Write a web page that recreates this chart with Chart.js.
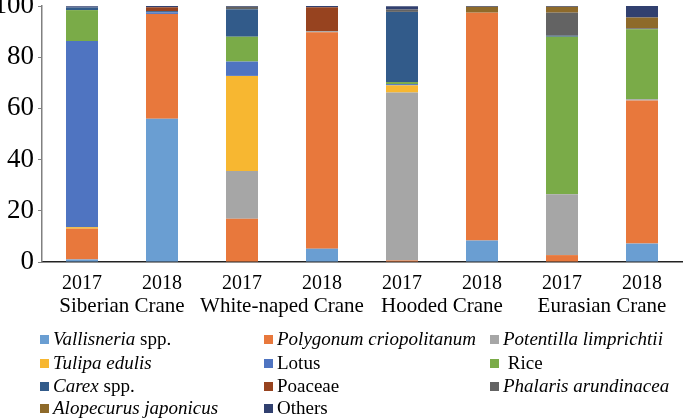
<!DOCTYPE html>
<html>
<head>
<meta charset="utf-8">
<script src="https://cdn.jsdelivr.net/npm/chart.js@4.4.0/dist/chart.umd.min.js"></script>
<style>
	html, body { margin: 0; padding: 0; background: #fff; }
	#wrap { position: relative; width: 685px; height: 418px; overflow: hidden; }
	#legend { position: absolute; left: 0; top: 0; font-family: 'Liberation Serif', 'Times New Roman', serif; font-size: 19px; color: #000; }
	.item { position: absolute; white-space: pre; line-height: 20px; }
	.box { position: absolute; left: 0; top: 6px; width: 9px; height: 9px; }
	.txt { position: absolute; left: 13px; top: 0; }
</style>
</head>
<body>
<div id="wrap">
	<canvas id="cranes" width="685" height="418"></canvas>
	<div id="legend"></div>
</div>
<script>
// カテゴリ（年）と種
var years = ['2017', '2018', '2017', '2018', '2017', '2018', '2017', '2018'];
var cranes = ['Siberian Crane', 'White-naped Crane', 'Hooded Crane', 'Eurasian Crane'];
var yTicks = [0, 20, 40, 60, 80, 100];

// 凡例の表示名（斜体部分あり）
var names = ['Vallisneria spp.', 'Polygonum criopolitanum', 'Potentilla limprichtii', 'Tulipa edulis',
	'Lotus', 'Rice', 'Carex spp.', 'Poaceae', 'Phalaris arundinacea', 'Alopecurus japonicus', 'Others'];
var namesHtml = ['<i>Vallisneria</i> spp.', '<i>Polygonum criopolitanum</i>', '<i>Potentilla limprichtii</i>', '<i>Tulipa edulis</i>',
	'Lotus', ' Rice', '<i>Carex</i> spp.', 'Poaceae', '<i>Phalaris arundinacea</i>', '<i>Alopecurus japonicus</i>', 'Others'];

// 割合 (%)  SC17, SC18, WN17, WN18, HC17, HC18, EC17, EC18
var vallisneria = [1.0, 56.0, 0, 5.2, 0, 8.4, 0, 7.2];
var polygonum   = [12.0, 40.9, 16.9, 84.5, 0.6, 89.0, 2.7, 55.9];
var potentilla  = [0, 0, 18.6, 0.5, 65.6, 0, 23.8, 0.5];
var tulipa      = [0.6, 0, 37.2, 0, 2.8, 0, 0, 0];
var lotus       = [72.7, 0.6, 5.6, 0, 0.5, 0, 0, 0];
var rice        = [12.1, 0, 9.7, 0, 0.8, 0, 61.5, 27.3];
var carex       = [1.0, 0.5, 10.7, 0, 27.4, 0, 0.4, 0];
var poaceae     = [0, 1.5, 0, 9.3, 0, 0, 0, 0];
var phalaris    = [0, 0, 1.0, 0, 0.9, 0, 9.0, 0.4];
var alopecurus  = [0, 0, 0, 0, 0, 2.3, 2.3, 4.2];
var others      = [0.5, 0.5, 0.3, 0.5, 1.3, 0.3, 0.3, 4.6];

var colors = ['#6A9ED2', '#E8783C', '#A6A6A6', '#F7B731', '#4F74C1', '#7AAB48',
	'#325B8A', '#97431F', '#636363', '#8E6A2A', '#31406F'];

var series = [vallisneria, polygonum, potentilla, tulipa, lotus, rice, carex, poaceae, phalaris, alopecurus, others];

var serif = "'Liberation Serif', 'Times New Roman', serif";

var datasets = series.map(function(vals, i) {
	return {
		label: names[i],
		data: vals,
		backgroundColor: colors[i],
		borderWidth: 0,
		barPercentage: 1,
		categoryPercentage: 0.4
	};
});

var ctx = document.getElementById('cranes').getContext('2d');
var chart = new Chart(ctx, {
	type: 'bar',
	data: { labels: years, datasets: datasets },
	options: {
		responsive: false,
		animation: false,
		layout: { padding: { top: 6, right: 3, bottom: 100, left: 0 } },
		plugins: { legend: { display: false }, tooltip: { enabled: false } },
		scales: {
			x: {
				stacked: true,
				offset: true,
				afterFit: function(scale) { scale.height = 32; },
				grid: { display: false, drawTicks: false, tickLength: 0 },
				border: { color: '#222', width: 1.5 },
				ticks: { color: '#000', padding: 13, maxRotation: 0, minRotation: 0, autoSkip: false,
					font: { family: serif, size: 20, lineHeight: 0.9 } }
			},
			x2: {
				type: 'category',
				labels: cranes,
				position: 'bottom',
				offset: true,
				afterFit: function(scale) { scale.height = 24; },
				grid: { display: false, drawTicks: false, tickLength: 0 },
				border: { display: false },
				ticks: { color: '#000', padding: 2, maxRotation: 0, minRotation: 0, autoSkip: false,
					font: { family: serif, size: 21, lineHeight: 1.0 } }
			},
			y: {
				stacked: true,
				min: 0,
				max: 100,
				afterBuildTicks: function(scale) {
					scale.ticks = yTicks.map(function(v) { return { value: v }; });
				},
				afterFit: function(scale) {
					scale.width = 42;
					scale.paddingTop = 0;
					scale.paddingBottom = 0;
				},
				grid: { drawOnChartArea: false, tickLength: 4, color: '#808080' },
				border: { color: '#808080', width: 1.5 },
				ticks: { color: '#000', padding: 4, font: { family: serif, size: 27 } }
			}
		}
	}
});

// 凡例（HTML）
var legend = document.getElementById('legend');
var colX = [40, 264, 490];
var rowY = [329, 353, 376, 398];
chart.data.datasets.forEach(function(ds, i) {
	var item = document.createElement('div');
	item.className = 'item';
	item.style.left = colX[i % 3] + 'px';
	item.style.top = rowY[Math.floor(i / 3)] + 'px';
	item.innerHTML = '<span class="box" style="background:' + ds.backgroundColor + '"></span>' +
		'<span class="txt">' + namesHtml[i] + '</span>';
	legend.appendChild(item);
});
</script>
</body>
</html>
